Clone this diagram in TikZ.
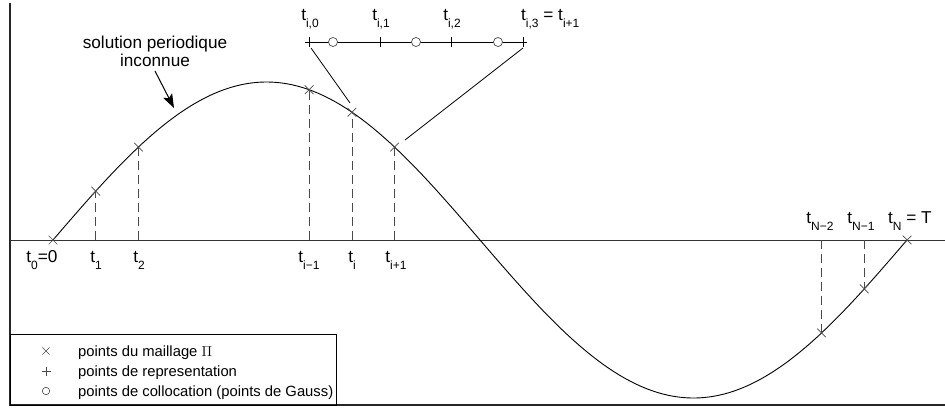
\documentclass[tikz,border=0pt]{standalone}
\usepackage{fontspec}
\setmainfont{Liberation Sans}
\usetikzlibrary{shapes.misc,arrows.meta}
\newcommand\tsub[1]{t\raisebox{-7.5pt}{\fontsize{12}{13}\selectfont #1}}
\definecolor{mgray}{HTML}{4A4A4A}
\begin{document}
\begin{tikzpicture}[x=1pt,y=-1pt,font=\fontsize{17.2}{20}\selectfont,
  frame/.style={draw=black!85,line width=1.3pt},
  axisline/.style={draw=black!80,line width=0.9pt},
  curve/.style={draw=black,line width=0.9pt},
  mesh/.style={cross out,draw=mgray,line width=0.7pt,minimum size=8pt,inner sep=0pt},
  guide/.style={draw=mgray,line width=0.7pt,dash pattern=on 9pt off 5pt},
  lab/.style={anchor=base,inner sep=0pt},
  labw/.style={anchor=base west,inner sep=0pt},
  legtext/.style={anchor=base west,inner sep=0pt,font=\fontsize{14.8}{17}\selectfont},
  gauss/.style={circle,draw=mgray,fill=white,line width=0.7pt,minimum size=9pt,inner sep=0pt},
  thin/.style={draw=black,line width=0.8pt}]
\useasboundingbox (0,0) rectangle (945,407);
% frame and axis
\coordinate (ftop) at (10,3);
\coordinate (fcorner) at (10,405);
\coordinate (fright) at (945,405);
\draw[frame] (ftop) -- (fcorner) -- (fright);
\coordinate (axL) at (10,240);
\coordinate (axR) at (945,240);
\draw[axisline] (axL) -- (axR);
% periodic solution
\draw[curve] plot[domain=53:907,samples=241,smooth] (\x,{240-158*sin(((\x-53)/854)*360)});
% mesh points
\foreach \k in {0,1,2,6,7,8,18,19,20}{
  \coordinate (a\k) at ({53+42.7*\k},240);
  \node[mesh] (p\k) at ({53+42.7*\k},{240-158*sin(18*\k)}) {};
}
\foreach \k in {1,2,6,7,8,18,19}{
  \draw[guide] (a\k) -- (p\k.center);
}
% axis labels
\node[lab] (l0) at (42,262) {\tsub{0}=0};
\node[lab] (l1) at (96,262) {\tsub{1}};
\node[lab] (l2) at (139,262) {\tsub{2}};
\node[lab] (l6) at (309,262) {\tsub{i−1}};
\node[lab] (l7) at (352,262) {\tsub{i}};
\node[lab] (l8) at (396,262) {\tsub{i+1}};
\node[lab] (l18) at (820,223) {\tsub{N−2}};
\node[lab] (l19) at (861,223) {\tsub{N−1}};
\node[labw] (l20) at (888,223) {\tsub{N} = T};
% solution label and arrow
\node[lab] (sol1) at (155,48) {solution periodique};
\node[lab] (sol2) at (155,66) {inconnue};
\coordinate (arS) at (155,71);
\coordinate (arE) at (174,108);
\draw[line width=1pt,-{Stealth[length=14pt,width=10pt,inset=3pt]}] (arS) -- (arE);
% zoomed sub-interval
\coordinate (zL) at (305,42);
\coordinate (zR) at (527,42);
\draw[thin] (zL) -- (zR);
\foreach \i/\x in {0/309,1/380,2/451,3/523}{
  \coordinate (s\i) at (\x,42);
  \draw[thin] (\x,37) -- (\x,47);
}
\node[gauss] (g1) at (333,42) {};
\node[gauss] (g2) at (416,42) {};
\node[gauss] (g3) at (498,42) {};
\node[lab] (z0) at (310,20) {\tsub{i,0}};
\node[lab] (z1) at (381,20) {\tsub{i,1}};
\node[lab] (z2) at (452,20) {\tsub{i,2}};
\node[labw] (z3) at (521,20) {\tsub{i,3} = \tsub{i+1}};
% zoom connectors
\coordinate (c0a) at (311,48);
\coordinate (c0b) at (350,103);
\coordinate (c1a) at (523,48);
\coordinate (c1b) at (405,140);
\draw[thin] (c0a) -- (c0b);
\draw[thin] (c1a) -- (c1b);
% legend
\coordinate (lgA) at (10,334);
\coordinate (lgB) at (336,405);
\draw[thin] (lgA) rectangle (lgB);
\node[cross out,draw=mgray,line width=0.6pt,minimum size=6.5pt,inner sep=0pt] (k1) at (46,351) {};
\draw[draw=mgray,line width=0.6pt] (41.5,371) -- (50.5,371) (46,366.5) -- (46,375.5);
\node[circle,draw=mgray,line width=0.6pt,minimum size=7.5pt,inner sep=0pt] (k3) at (46,391) {};
\node[legtext] (t1) at (78,356) {points du maillage $\Pi$};
\node[legtext] (t2) at (78,376) {points de representation};
\node[legtext] (t3) at (78,396) {points de collocation (points de Gauss)};
\end{tikzpicture}
\end{document}
